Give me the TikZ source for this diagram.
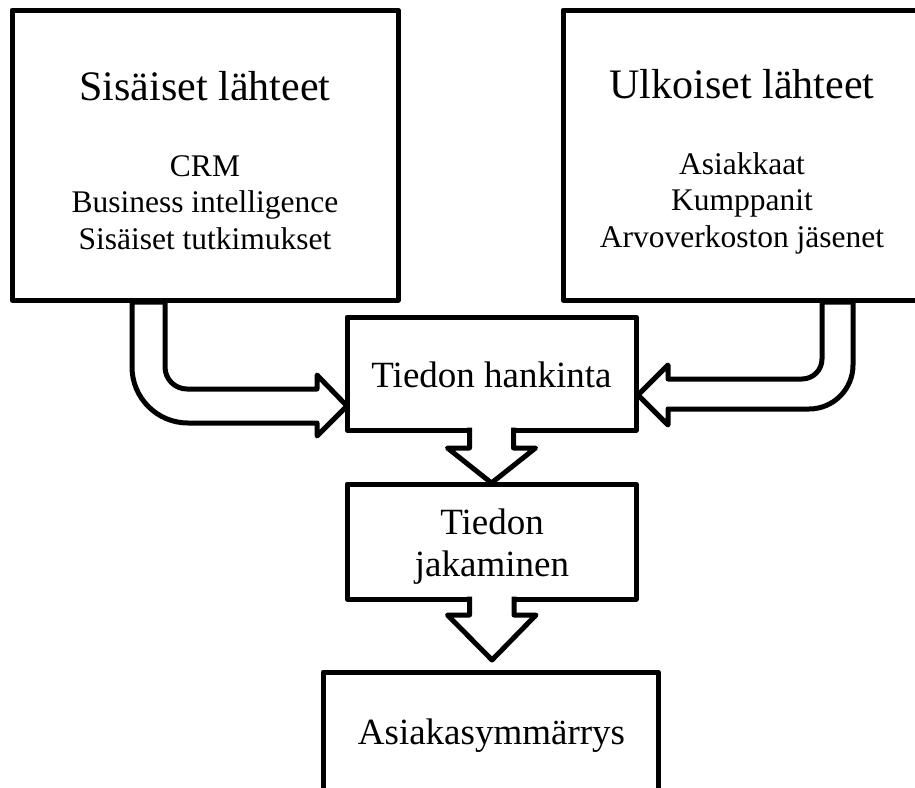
\documentclass[tikz,border=0pt]{standalone}
\usepackage{fontspec}
\setmainfont{Liberation Serif}
\usetikzlibrary{calc}
\tikzset{
  box/.style={draw=black, line width=5pt, line join=round, fill=white, inner sep=0pt, outer sep=0pt},
  blockarrow/.style={draw=black, fill=white, line width=5pt, line join=round},
  headtxt/.style={anchor=base, inner sep=0pt, font=\fontsize{42}{48}\selectfont},
  itemtxt/.style={anchor=base, inner sep=0pt, font=\fontsize{31.5}{36}\selectfont},
  midtxt/.style={anchor=base, inner sep=0pt, font=\fontsize{37}{42}\selectfont}
}
\begin{document}
\begin{tikzpicture}[x=1pt,y=-1pt]
\path[use as bounding box, clip] (0,0) rectangle (915,787);
\fill[white] (0,0) rectangle (915,787);

% boxes
\node[box, minimum width=386pt, minimum height=290pt] (sis) at (205,155) {};
\node[box, minimum width=358pt, minimum height=290pt] (ulk) at (742,155) {};
\node[box, minimum width=289pt, minimum height=113pt] (hank) at (491.5,373.5) {};
\node[box, minimum width=289pt, minimum height=115pt] (jak) at (491.5,541.5) {};
\node[box, minimum width=335pt, minimum height=148pt] (asi) at (490.5,746) {};

% texts
\node[headtxt] (sish) at (205,100) {Sisäiset lähteet};
\node[itemtxt] (sis1) at (205,176) {CRM};
\node[itemtxt] (sis2) at (205,212.5) {Business intelligence};
\node[itemtxt] (sis3) at (205,249) {Sisäiset tutkimukset};

\node[headtxt] (ulkh) at (742,98) {Ulkoiset lähteet};
\node[itemtxt] (ulk1) at (742,174) {Asiakkaat};
\node[itemtxt] (ulk2) at (742,210) {Kumppanit};
\node[itemtxt] (ulk3) at (742,247) {Arvoverkoston jäsenet};

\node[midtxt] (hankt) at (491.5,387) {Tiedon hankinta};
\node[midtxt] (jakt1) at (492,534) {Tiedon};
\node[midtxt] (jakt2) at (492,576) {jakaminen};
\node[midtxt] (asit) at (491.5,744) {Asiakasymmärrys};

% connector anchors
\coordinate (lstart) at ($(sis.south west)+(120,2)$);
\coordinate (rstart) at ($(ulk.south west)+(259,2)$);
\coordinate (d1) at (hank.south);
\coordinate (d2) at (jak.south);

% left bent block arrow: sis -> hank
\draw[blockarrow] (lstart) -- ++(33,0) -- ++(0,65)
  arc[start angle=180, end angle=90, radius=22]
  -- ($(hank.west)+(-30,15.5)$) -- ++(0,-14) -- ($(hank.west)+(0,32.5)$) -- ++(-30,30) -- ++(0,-13)
  -- (188,423) arc[start angle=90, end angle=180, radius=56] -- cycle;

% right bent block arrow: ulk -> hank
\draw[blockarrow] (rstart) -- ++(31,0) -- ++(0,63)
  arc[start angle=0, end angle=90, radius=44]
  -- ($(hank.east)+(32,35.5)$) -- ++(0,16) -- ($(hank.east)+(2,21.5)$) -- ++(30,-30) -- ++(0,14)
  -- (802,379) arc[start angle=90, end angle=0, radius=20] -- cycle;

% down arrow: hank -> jak
\fill[white] ($(d1)+(-22,-4)$) -- ++(0,22) -- ++(-22,0) -- (jak.north) -- ++(44,-35) -- ++(-22,0) -- ++(0,-22) -- cycle;
\draw[blockarrow, fill=none] ($(d1)+(-22,-2.5)$) -- ++(0,20.5) -- ++(-22,0) -- ($(jak.north)+(0,-1)$) -- ++(44,-35) -- ++(-22,0) -- ++(0,-20.5);

% down arrow: jak -> asi
\fill[white] ($(d2)+(-22,-4)$) -- ++(0,20) -- ++(-22,0) -- ($(asi.north)+(1.5,-12)$) -- ++(44,-45) -- ++(-22,0) -- ++(0,-20) -- cycle;
\draw[blockarrow, fill=none] ($(d2)+(-22,-2.5)$) -- ++(0,18.5) -- ++(-22,0) -- ($(asi.north)+(1.5,-12)$) -- ++(44,-45) -- ++(-22,0) -- ++(0,-18.5);
\end{tikzpicture}
\end{document}
